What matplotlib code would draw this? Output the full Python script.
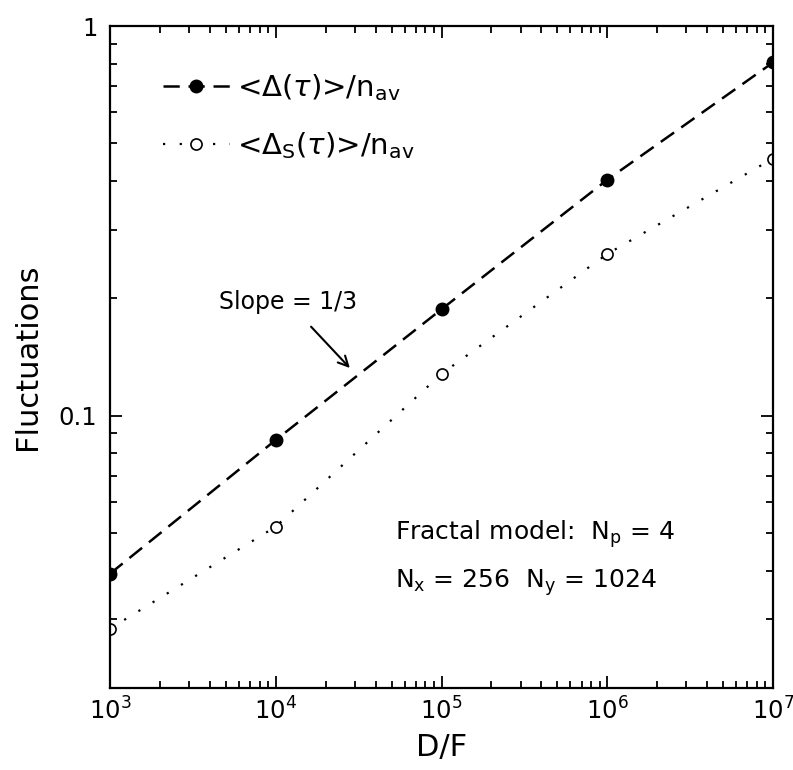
import numpy as np
import matplotlib
matplotlib.use("Agg")
import matplotlib.pyplot as plt
from matplotlib.ticker import LogLocator, NullFormatter, FixedLocator, FixedFormatter

# values
d_over_f = [1e3, 1e4, 1e5, 1e6, 1e7]
delta_avg = [0.0393, 0.0866, 0.1875, 0.403, 0.806]
delta_s_avg = [0.0284, 0.0519, 0.128, 0.260, 0.457]

x_ticks = [1e3, 1e4, 1e5, 1e6, 1e7]
x_tick_labels = [r'10$^{3}$', r'10$^{4}$', r'10$^{5}$', r'10$^{6}$', r'10$^{7}$']
y_ticks = [0.1, 1]
y_tick_labels = ['0.1', '1']

plt.rcParams['font.family'] = ['DejaVu Sans']
plt.rcParams['mathtext.fontset'] = 'dejavusans'

fig = plt.figure(figsize=(7.93, 7.70), dpi=100)
ax = fig.add_axes([110 / 793, 1 - 688 / 770, 663 / 793, 662 / 770])

ax.plot(d_over_f, delta_avg, color='black', lw=1.8, dashes=(6.5, 3.5),
        marker='o', markersize=9, markerfacecolor='black',
        label=r'<$\Delta$($\tau$)>/n$_{\mathrm{av}}$')
ax.plot(d_over_f, delta_s_avg, color='black', lw=1.6, dashes=(1, 6.5),
        marker='o', markersize=8, markerfacecolor='white', markeredgewidth=1.2,
        label=r'<$\Delta_{\mathrm{S}}$($\tau$)>/n$_{\mathrm{av}}$')

ax.set_xscale('log')
ax.set_yscale('log')
ax.set_xlim(1e3, 1e7)
ax.set_ylim(0.02, 1)

ax.xaxis.set_major_locator(FixedLocator(x_ticks))
ax.xaxis.set_major_formatter(FixedFormatter(x_tick_labels))
ax.xaxis.set_minor_locator(LogLocator(base=10, subs=np.arange(2, 10)))
ax.xaxis.set_minor_formatter(NullFormatter())
ax.yaxis.set_major_locator(FixedLocator(y_ticks))
ax.yaxis.set_major_formatter(FixedFormatter(y_tick_labels))
ax.yaxis.set_minor_locator(LogLocator(base=10, subs=np.arange(2, 10)))
ax.yaxis.set_minor_formatter(NullFormatter())

ax.tick_params(which='both', direction='in', top=True, right=True, width=1.3)
ax.tick_params(which='major', length=8.5, labelsize=17.5)
ax.tick_params(which='minor', length=4.8)
ax.tick_params(axis='y', pad=9)
ax.tick_params(axis='x', pad=7)
for sp in ax.spines.values():
    sp.set_linewidth(1.6)

ax.set_xlabel('D/F', fontsize=22, labelpad=6)
ax.set_ylabel('Fluctuations', fontsize=22, labelpad=12)

ax.legend(loc='upper left', bbox_to_anchor=(0.04, 0.97), frameon=False,
          fontsize=21, handlelength=2.3, handletextpad=0.25, labelspacing=0.92)

ax.annotate('Slope = 1/3', xy=(2.8e4, 0.1325), xytext=(1.18e4, 0.196),
            fontsize=17, ha='center', va='center',
            arrowprops=dict(arrowstyle='->', color='black', lw=1.5,
                            shrinkA=10, shrinkB=0, mutation_scale=18))

ax.text(395 / 793, 1 - 540 / 770, r'Fractal model:  N$_{\mathrm{p}}$ = 4',
        transform=fig.transFigure, fontsize=18, ha='left', va='baseline')
ax.text(395 / 793, 1 - 588 / 770, r'N$_{\mathrm{x}}$ = 256  N$_{\mathrm{y}}$ = 1024',
        transform=fig.transFigure, fontsize=18, ha='left', va='baseline')

fig.savefig('out.png', dpi=100)
